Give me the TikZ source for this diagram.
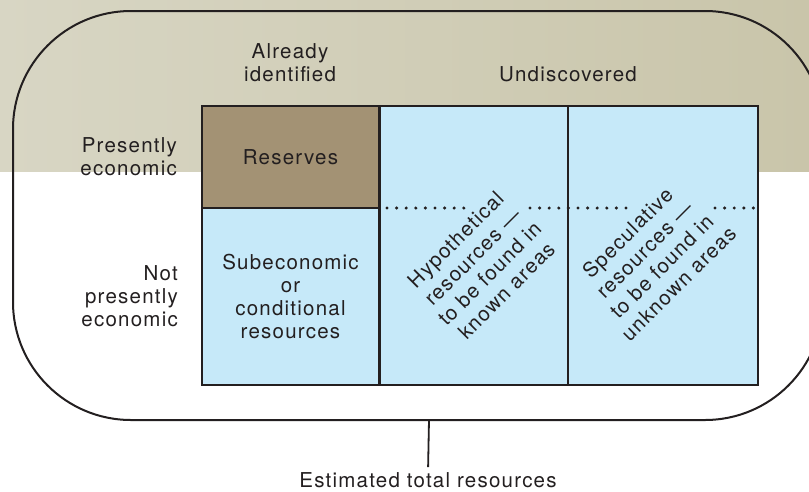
\documentclass[tikz,border=0pt]{standalone}
\usepackage{fontspec}
\setmainfont{TeX Gyre Heros}[LetterSpace=6]
\usepackage{tikz}
\usetikzlibrary{positioning}
\definecolor{BandLeft}{HTML}{D8D6C4}
\definecolor{BandRight}{HTML}{C9C5AA}
\definecolor{ResBrown}{HTML}{A39274}
\definecolor{ResBlue}{HTML}{C6E9F9}
\definecolor{Ink}{HTML}{231F20}

\begin{document}
\begin{tikzpicture}[x=1pt,y=-1pt,
  txt/.style={text=Ink,font=\fontsize{20.5}{22.8}\selectfont,align=center,inner sep=0pt},
  cell/.style={draw=Ink,line width=1.2pt,inner sep=0pt,txt},
  dots/.style={Ink,line width=3.4pt,line cap=round,dash pattern=on 0pt off 9.6pt}]
\useasboundingbox (0,0) rectangle (809,491);
\clip (0,0) rectangle (809,491);
\shade[left color=BandLeft,right color=BandRight] (0,0) rectangle (809,171);
\draw[Ink,line width=2pt,rounded corners=118pt] (13,11) rectangle (823,420);
% classification boxes
\node[cell,fill=ResBrown,minimum width=177,minimum height=102] (reserves) at (290.5,157) {Reserves};
\node[cell,fill=ResBlue,minimum width=177,minimum height=177] (subecon) at (290.5,296.5) {Subeconomic\\or\\conditional\\resources};
\node[cell,fill=ResBlue,minimum width=188,minimum height=279] (hypo) at (474,245.5) {};
\node[cell,fill=ResBlue,minimum width=190,minimum height=279] (spec) at (663,245.5) {};
\draw[Ink,line width=3.5pt] (reserves.north east) -- (subecon.south east);
\draw[dots] (387,208) -- (465,208);
\draw[dots] (530,208) -- (627,208);
\draw[dots] (715,208) -- (758,208);
\node[txt,rotate=45,font=\fontsize{20.5}{24}\selectfont] (hypotxt) at (481,265) {Hypothetical\\resources —\\to be found in\\known areas};
\node[txt,rotate=45,font=\fontsize{20.5}{24}\selectfont] (spectxt) at (653,258) {Speculative\\resources —\\to be found in\\unknown areas};
% headings
\node[txt] (ident) at (290,63) {Already\\identified};
\node[txt] (undisc) at (568,74) {Undiscovered};
\node[txt,align=right,anchor=east] (econ) at (177,157) {Presently\\economic};
\node[txt,align=right,anchor=east] (notecon) at (178,296) {Not\\presently\\economic};
\node[txt] (total) at (428,480) {Estimated total resources};
\coordinate (tick) at (429,420);
\draw[Ink,line width=1.8pt,shorten >=5pt] (tick) -- (total.north);
\end{tikzpicture}
\end{document}
